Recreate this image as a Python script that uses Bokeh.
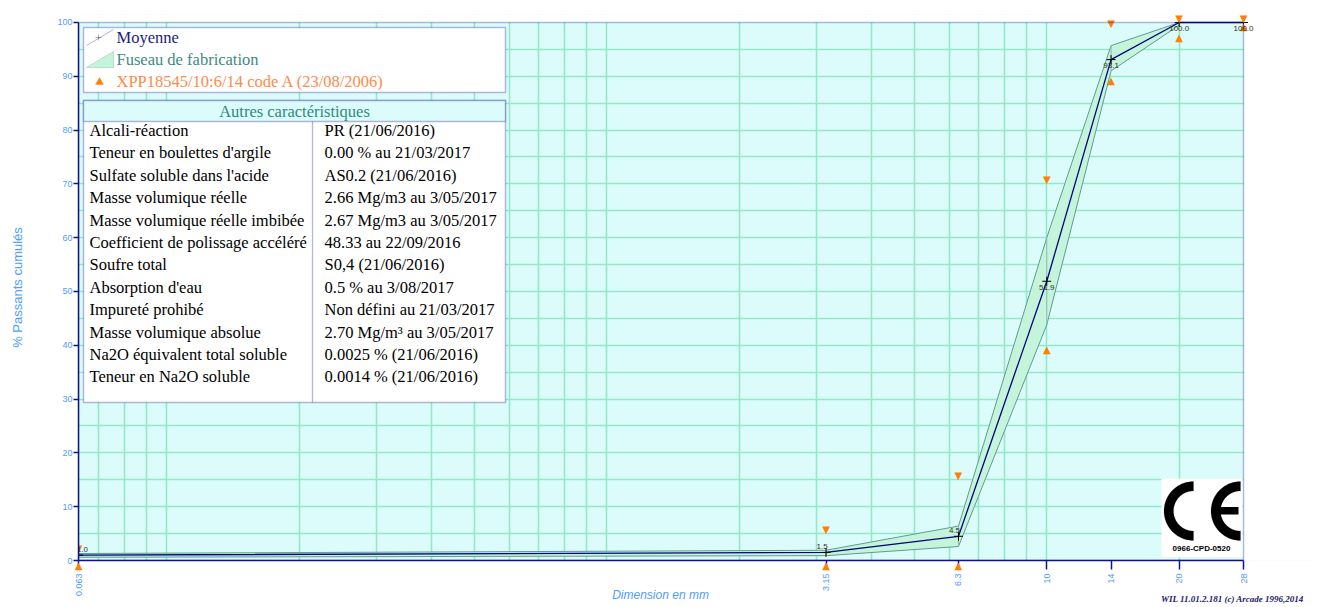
import numpy as np
from bokeh.plotting import figure
from bokeh.models import (Range1d, FixedTicker, Label, BoxAnnotation, PolyAnnotation, LogAxis)
from bokeh.core.properties import value
from bokeh.embed import file_html
from bokeh.resources import INLINE

# ---------------- data ----------------
sieves = [0.063, 3.15, 6.3, 10, 14, 20, 28]
sieve_labels = ["0.063", "3.15", "6.3", "10", "14", "20", "28"]
mean_pass = [1.0, 1.5, 4.5, 51.9, 93.1, 100.0, 100.0]
band_sieves = [0.063, 3.15, 6.3, 10, 14, 20]
band_upper = [1.3, 1.9, 6.4, 60.0, 95.7, 100.0]
band_lower = [0.6, 0.9, 2.6, 43.8, 91.0, 99.5]
spec_upper = [1.5, 5, 15, 70, 99, 100, 100]
spec_lower = [0, 0, 0, 40, 90, 98, 100]
grid_sizes = [0.07, 0.08, 0.09, 0.1, 0.2, 0.3, 0.4, 0.5, 0.6, 0.7, 0.8, 0.9,
              1, 2, 3, 4, 5, 6, 7, 8, 9, 10, 20]
y_ticks = [0, 10, 20, 30, 40, 50, 60, 70, 80, 90, 100]
y_grid = [5, 10, 15, 20, 25, 30, 35, 40, 45, 50, 55, 60, 65, 70, 75, 80, 85, 90, 95]

legend_labels = ["Moyenne", "Fuseau de fabrication", "XPP18545/10:6/14 code A (23/08/2006)"]
table_title = "Autres caractéristiques"
table_names = ["Alcali-réaction", "Teneur en boulettes d'argile", "Sulfate soluble dans l'acide",
               "Masse volumique réelle", "Masse volumique réelle imbibée",
               "Coefficient de polissage accéléré", "Soufre total", "Absorption d'eau",
               "Impureté prohibé", "Masse volumique absolue", "Na2O équivalent total soluble",
               "Teneur en Na2O soluble"]
table_values = ["PR  (21/06/2016)", "0.00 %  au 21/03/2017", "AS0.2  (21/06/2016)",
                "2.66 Mg/m3  au 3/05/2017", "2.67 Mg/m3  au 3/05/2017", "48.33   au 22/09/2016",
                "S0,4  (21/06/2016)", "0.5 %  au 3/08/2017", "Non défini  au 21/03/2017",
                "2.70 Mg/m³  au 3/05/2017", "0.0025 %  (21/06/2016)", "0.0014 %  (21/06/2016)"]
y_title = "% Passants cumulés"
x_title = "Dimension en mm"
footer = "WIL 11.01.2.181 (c) Arcade 1996,2014"
ce_code = "0966-CPD-0520"

# ---------------- styles / layout ----------------
NAVY = "#12128a"
AXIS_TXT = "#4f9dff"
BG = "#dcfcfc"
GRID = "#93e9c6"
BAND_FILL = "#c4f4da"
BAND_EDGE = "#5f9c92"
ORANGE = "#ff8000"
SERIF = "Liberation Serif"
label_dx = [4, -4, -4, 0, 0, 0, 0]
label_dy = [-6, -6, -6, 6, 6, 6, 6]

W, H = 1316, 606
PL, PT, PR, PB = 78, 22, 1243, 561      # plot area (0.063..28 x 0..100) in page px
FL, FT, FR, FB = 78, 14, W, 561         # drawing frame (larger at top/right so marks are not cut)
X_TITLE_PX, FOOTER_PX = 660, 1232       # horizontal centres of the bottom texts

ppd = (PR - PL) / np.log10(sieves[-1] / sieves[0])
ppu = (PB - PT) / 100.0
x_end = sieves[-1] * 10 ** ((FR - PR) / ppd)
y_end = 100 + (PT - FT) / ppu
x_title_at = round(float(sieves[0] * 10 ** ((X_TITLE_PX - PL) / ppd)), 3)
footer_at = round(float(sieves[0] * 10 ** ((FOOTER_PX - PL) / ppd)), 3)


def sx(px):
    return px - FL


def sy(py):
    return FB - py


def box(l, r, t, b, **kw):
    return BoxAnnotation(left=sx(l), right=sx(r), top=sy(t), bottom=sy(b),
                         left_units="screen", right_units="screen", top_units="screen",
                         bottom_units="screen", **kw)


def poly(xs, ys, **kw):
    return PolyAnnotation(xs=[sx(v) for v in xs], ys=[sy(v) for v in ys],
                          xs_units="screen", ys_units="screen", **kw)


def text(x, y, s, **kw):
    args = dict(text_baseline="middle", text_align="left")
    args.update(kw)
    return Label(x=sx(x), y=sy(y), x_units="screen", y_units="screen", text=s, **args)


p = figure(width=W, height=H, x_axis_type="log",
           x_range=Range1d(sieves[0], x_end), y_range=Range1d(0, y_end),
           output_backend="svg", toolbar_location=None, title=None,
           min_border_left=FL, min_border_right=W - FR, min_border_top=FT,
           min_border_bottom=H - FB)
p.background_fill_color = BG
p.border_fill_color = "white"
p.outline_line_color = None

p.xgrid.ticker = FixedTicker(ticks=grid_sizes)
p.ygrid.ticker = FixedTicker(ticks=y_grid)
for g in (p.xgrid, p.ygrid):
    g.grid_line_color = GRID
    g.grid_line_width = 1.6

# white margins above / right of the plot area (cover background and grid)
for kw in (dict(left=sieves[0] / 10, right=sieves[-1] * 10, bottom=100, top=1000),
           dict(left=sieves[-1], right=sieves[-1] * 10, bottom=-10, top=1000)):
    p.add_layout(BoxAnnotation(fill_color="white", fill_alpha=1, line_alpha=0,
                               level="underlay", **kw))

# main x axis: sieve labels only
main_x = p.below[0]
main_x.ticker = FixedTicker(ticks=sieves)
main_x.bounds = (sieves[0], sieves[-1])
main_x.major_label_overrides = {s: t for s, t in zip(sieves, sieve_labels)}
main_x.major_label_orientation = np.pi / 2
main_x.major_tick_out = 0
main_x.major_tick_in = 0
main_x.major_tick_line_color = None
main_x.minor_tick_line_color = None
main_x.axis_line_color = None
main_x.major_label_standoff = 0
main_x.major_label_text_color = AXIS_TXT
main_x.major_label_text_font = "Liberation Sans"
main_x.major_label_text_font_size = "9px"

# inner x axis: axis line, tick marks and the lower spec-limit markers lying on 0
tick_axis = LogAxis(ticker=FixedTicker(ticks=sieves), bounds=(sieves[0], sieves[-1]),
                    major_label_overrides={s: ("▲" if lo == 0 else "")
                                           for s, lo in zip(sieves, spec_lower)},
                    axis_line_color=NAVY, axis_line_width=1.5,
                    major_tick_out=9, major_tick_in=0,
                    major_tick_line_color=NAVY, major_tick_line_width=1.5,
                    minor_tick_line_color=None, major_label_standoff=-10,
                    major_label_orientation="horizontal",
                    major_label_text_color=ORANGE, major_label_text_font="DejaVu Sans",
                    major_label_text_font_size="10px")

# x title and credit line, drawn as single tick labels at the very bottom
common = dict(axis_line_color=None, major_tick_out=0, major_tick_in=0,
              major_tick_line_color=None, minor_tick_line_color=None,
              major_label_orientation="horizontal")
title_axis = LogAxis(ticker=FixedTicker(ticks=[x_title_at]),
                     major_label_overrides={x_title_at: x_title},
                     major_label_standoff=-12, major_label_text_color=AXIS_TXT,
                     major_label_text_font="Liberation Sans", major_label_text_font_size="12px",
                     major_label_text_font_style="italic", **common)
footer_axis = LogAxis(ticker=FixedTicker(ticks=[footer_at]),
                      major_label_overrides={footer_at: footer},
                      major_label_standoff=-11, major_label_text_color="#1a1a6a",
                      major_label_text_font=SERIF, major_label_text_font_size="9px",
                      major_label_text_font_style="bold italic", **common)
p.below = [tick_axis, main_x, title_axis, footer_axis]

yax = p.yaxis[0]
yax.ticker = FixedTicker(ticks=y_ticks)
yax.bounds = (0, 100)
yax.major_tick_out = 5
yax.major_tick_in = 0
yax.axis_line_color = NAVY
yax.axis_line_width = 1.5
yax.major_tick_line_color = NAVY
yax.major_tick_line_width = 1.5
yax.minor_tick_line_color = None
yax.major_label_text_color = AXIS_TXT
yax.major_label_text_font = "Liberation Sans"
yax.major_label_text_font_size = "9px"
yax.major_label_standoff = 1
yax.axis_label = y_title
yax.axis_label_text_color = AXIS_TXT
yax.axis_label_text_font = "Liberation Sans"
yax.axis_label_text_font_size = "13px"
yax.axis_label_text_font_style = "normal"
yax.axis_label_standoff = 29

# plot-area border
p.add_layout(BoxAnnotation(left=sieves[0], right=sieves[-1], bottom=0, top=100,
                           fill_alpha=0, line_color=NAVY, line_width=1.5))

# ---------------- data glyphs ----------------
p.patch(band_sieves + band_sieves[::-1], band_upper + band_lower[::-1],
        fill_color=BAND_FILL, line_color=BAND_EDGE, line_width=1)
p.segment(x0=band_sieves, y0=band_lower, x1=band_sieves, y1=band_upper,
          line_color="#8ab8b0", line_width=1)
p.line(sieves, mean_pass, line_color="#000080", line_width=1.3)
p.scatter(sieves, mean_pass, marker="cross", size=9, line_color="black", line_width=1)

# specification limits: triangles whose tip points at the limit
p.text(x=sieves, y=spec_lower, text=["▲"] * len(sieves), y_offset=4,
       text_align="center", text_baseline="middle", text_font=value("DejaVu Sans"),
       text_font_size="10px", text_color=ORANGE)
p.text(x=sieves, y=spec_upper, text=["▼"] * len(sieves), y_offset=-4,
       text_align="center", text_baseline="middle", text_font=value("DejaVu Sans"),
       text_font_size="10px", text_color=ORANGE)

# value labels of the mean curve
p.text(x=sieves, y=mean_pass, text=[f"{v:.1f}" for v in mean_pass],
       x_offset=label_dx, y_offset=label_dy, text_align="center", text_baseline="middle",
       text_font=value("Liberation Sans"), text_font_size="8px", text_color="#3a3020")

# ---------------- legend ----------------
p.add_layout(box(83, 505, 28, 93, fill_color="white", fill_alpha=1,
                 line_color=NAVY, line_width=1.5))
p.add_layout(poly([86, 113], [46, 30], fill_alpha=0, line_color="#000080", line_width=1))
p.add_layout(poly([95, 101], [38, 38], fill_alpha=0, line_color="black", line_width=1))
p.add_layout(poly([98, 98], [35, 41], fill_alpha=0, line_color="black", line_width=1))
p.add_layout(poly([86, 113, 113], [68, 68, 52], fill_color=BAND_FILL, fill_alpha=1,
                  line_color=BAND_EDGE, line_width=1))
p.add_layout(poly([95, 103, 99], [85, 85, 78], fill_color=ORANGE, fill_alpha=1,
                  line_color=ORANGE, line_width=1))
leg_colors = ["#1c1c80", "#3f8a84", "#ff8a4a"]
leg_y = [38, 60, 82]
for txt, col, yy in zip(legend_labels, leg_colors, leg_y):
    p.add_layout(text(116, yy, txt, text_font=SERIF, text_font_size="16.5px", text_color=col))

# ---------------- table ----------------
p.add_layout(box(83, 505, 101, 403, fill_color="white", fill_alpha=1,
                 line_color=NAVY, line_width=1.5))
p.add_layout(box(83, 505, 101, 122, fill_color=BG, fill_alpha=1,
                 line_color=NAVY, line_width=1.5))
p.add_layout(box(312, 312, 122, 403, fill_alpha=0, line_color=NAVY, line_width=1.3))
p.add_layout(text(294, 111.5, table_title, text_font=SERIF, text_font_size="16.5px",
                  text_color="#2e8a7c", text_align="center"))
for i, (nm, vl) in enumerate(zip(table_names, table_values)):
    yy = 131 + i * 22.4
    p.add_layout(text(89, yy, nm, text_font=SERIF, text_font_size="16.5px", text_color="black"))
    p.add_layout(text(324, yy, vl, text_font=SERIF, text_font_size="16.5px", text_color="black"))

# ---------------- CE mark ----------------
p.add_layout(box(1161, 1242, 479, 558, fill_color="white", fill_alpha=1, line_alpha=0))


def half_ring(cx, cy, R, r):
    a = np.linspace(np.pi / 2, 3 * np.pi / 2, 40)
    xs = np.concatenate([cx + R * np.cos(a), cx + r * np.cos(a[::-1])])
    ys = np.concatenate([cy - R * np.sin(a), cy - r * np.sin(a[::-1])])
    return list(xs), list(ys)


for cx in (1193, 1240):
    xs, ys = half_ring(cx, 511.5, 29.5, 20)
    p.add_layout(poly(xs, ys, fill_color="black", fill_alpha=1, line_color="black",
                      line_width=0.5))
p.add_layout(box(1218, 1238, 507.5, 515, fill_color="black", fill_alpha=1, line_alpha=0))
p.add_layout(text(1201, 549, ce_code, text_font="Liberation Sans", text_font_size="8px",
                  text_font_style="bold", text_color="black", text_align="center"))

open("out.html", "w").write(file_html(p, INLINE))
